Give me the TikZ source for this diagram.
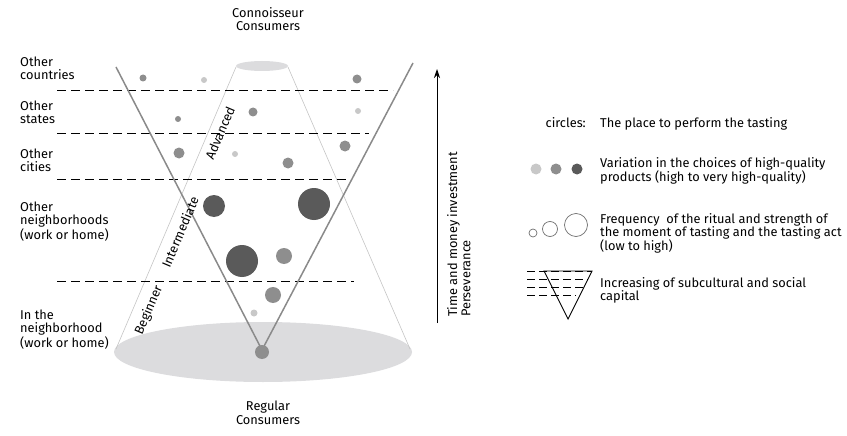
\documentclass[tikz,border=0pt]{standalone}
\usepackage{fontspec}
\setmainfont{Fira Sans}
\usetikzlibrary{arrows.meta}
\definecolor{dotdark}{HTML}{5A5A5A}
\definecolor{dotmid}{HTML}{8E8E8E}
\definecolor{dotlight}{HTML}{C8C8C8}
\definecolor{conefill}{HTML}{DCDCDE}
\definecolor{coneline}{HTML}{C4C4C4}
\definecolor{vline}{HTML}{8A8A8A}
\definecolor{ringline}{HTML}{707070}
\begin{document}
\begin{tikzpicture}[x=1pt,y=-1pt,
  txt/.style={font=\fontsize{12.8}{13.2}\selectfont, inner sep=0pt, align=left},
  lbl/.style={txt, anchor=north west},
  band/.style={line width=0.9pt, dash pattern=on 9pt off 5pt},
  legdash/.style={line width=0.8pt, dash pattern=on 8pt off 4pt},
  vstroke/.style={draw=vline, line width=1.5pt},
  cstroke/.style={draw=coneline, line width=0.6pt},
  dd/.style={fill=dotdark},
  dm/.style={fill=dotmid},
  dl/.style={fill=dotlight},
  ring/.style={draw=ringline, line width=0.7pt}]
\useasboundingbox (0,0) rectangle (847,436);
% cone
\fill[conefill] (263,352) ellipse [x radius=149, y radius=30];
\fill[conefill] (262,66) ellipse [x radius=26, y radius=5];
\coordinate (tl) at (236,67);
\coordinate (tr) at (288,67);
\coordinate (bl) at (116,349);
\coordinate (br) at (410,349);
\draw[cstroke] (tl) -- (bl);
\draw[cstroke] (tr) -- (br);
% bands
\coordinate (d1a) at (57,90);  \coordinate (d1b) at (393,90);
\coordinate (d2a) at (57,133); \coordinate (d2b) at (369,133);
\coordinate (d3a) at (57,179); \coordinate (d3b) at (352,179);
\coordinate (d4a) at (57,281); \coordinate (d4b) at (354,281);
\draw[band] (d1a) -- (d1b);
\draw[band] (d2a) -- (d2b);
\draw[band] (d3a) -- (d3b);
\draw[band] (d4a) -- (d4b);
% V
\coordinate (vl) at (116,67);
\coordinate (vr) at (413,63);
\coordinate (vb) at (262,350);
\draw[vstroke] (vl) -- (vb) -- (vr);
% dots
\fill[dm] (143,78) circle (3.5);
\fill[dl] (204,80) circle (3);
\fill[dm] (357,79) circle (4.5);
\fill[dm] (178,119) circle (3);
\fill[dm] (253,112) circle (4.5);
\fill[dl] (358,111) circle (3);
\fill[dm] (179,153) circle (5.5);
\fill[dl] (235,154) circle (3);
\fill[dm] (288,163) circle (5.5);
\fill[dm] (345,146) circle (5.5);
\fill[dd] (214,206) circle (11);
\fill[dd] (314,204) circle (16);
\fill[dd] (242,261) circle (16);
\fill[dm] (284,256) circle (8);
\fill[dm] (273,295) circle (8);
\fill[dl] (254,313) circle (3.5);
\fill[dm] (262,352) circle (7);
% rotated stage labels
\node[txt, rotate=67] (adv) at (220,133) {Advanced};
\node[txt, rotate=67] (int) at (180,232) {Intermediate};
\node[txt, rotate=67] (beg) at (149,310) {Beginner};
% left labels
\node[lbl] (l1) at (20,57) {Other\\countries};
\node[lbl] (l2) at (20,101) {Other\\states};
\node[lbl] (l3) at (20,149) {Other\\cities};
\node[lbl] (l4) at (20,202) {Other\\neighborhoods\\(work or home)};
\node[lbl] (l5) at (20,310) {In the\\neighborhood\\(work or home)};
% top / bottom
\node[txt, align=center, anchor=north] (top) at (268,7) {Connoisseur\\Consumers};
\node[txt, align=center, anchor=north] (bot) at (268,401) {Regular\\Consumers};
% arrow
\coordinate (ab) at (437,323);
\coordinate (at) at (437,69);
\draw[line width=0.9pt, -{Stealth[length=9pt,width=6pt]}] (ab) -- (at);
\node[lbl, rotate=90] (axis) at (447,317) {Time and money investment\\Perseverance};
% legend
\node[txt, anchor=north east] (circ) at (586,117) {circles:};
\node[lbl] (t1) at (600,117) {The place to perform the tasting};
\fill[dl] (536,169) circle (5.5);
\fill[dm] (556,169) circle (5.5);
\fill[dd] (577,169) circle (5.5);
\node[lbl] (t2) at (600,157) {Variation in the choices of high-quality\\products (high to very high-quality)};
\draw[ring] (533,233) circle (4);
\draw[ring] (550,229) circle (7.5);
\draw[ring] (576,225) circle (11.5);
\node[lbl] (t3) at (600,213) {Frequency\ \ of the ritual and strength of\\the moment of tasting and the tasting act\\(low to high)};
\coordinate (ta) at (544,271);
\coordinate (tb) at (592,271);
\coordinate (tc) at (568,319);
\draw[line width=0.9pt, line join=miter] (ta) -- (tb) -- (tc) -- cycle;
\coordinate (r1a) at (527,271); \coordinate (r1b) at (592,271);
\coordinate (r2a) at (527,279); \coordinate (r2b) at (588,279);
\coordinate (r3a) at (527,287); \coordinate (r3b) at (584,287);
\coordinate (r4a) at (527,295); \coordinate (r4b) at (576,295);
\draw[legdash] (r1a) -- (r1b);
\draw[legdash] (r2a) -- (r2b);
\draw[legdash] (r3a) -- (r3b);
\draw[legdash] (r4a) -- (r4b);
\node[lbl] (t4) at (600,277) {Increasing of subcultural and social\\capital};
\end{tikzpicture}
\end{document}
